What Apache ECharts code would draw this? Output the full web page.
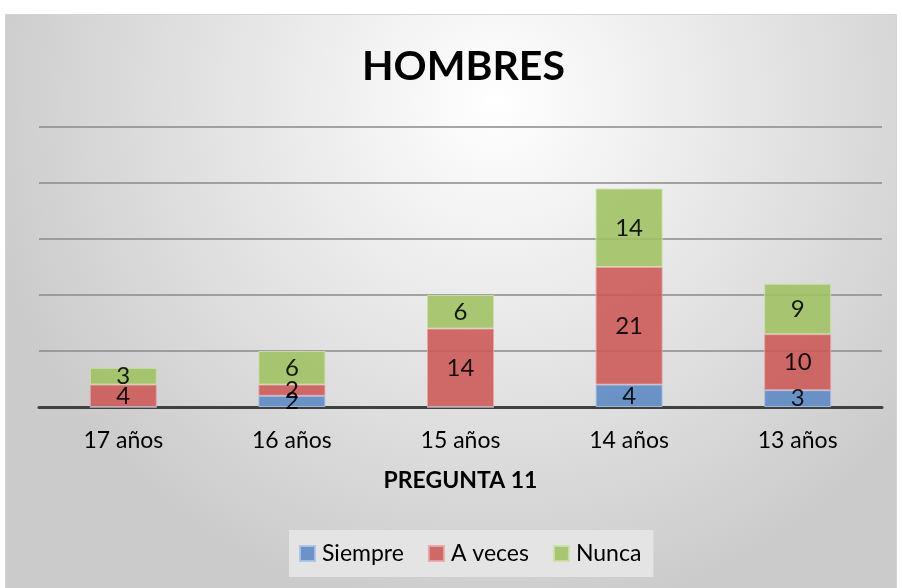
<!DOCTYPE html>
<html><head><meta charset="utf-8">
<script src="https://cdn.jsdelivr.net/npm/echarts@6/dist/echarts.min.js"></script>
<style>html,body{margin:0;padding:0;background:#fff}#c{width:902px;height:588px}</style>
</head><body><div id="c"></div>
<script>
const categories = ['17 años', '16 años', '15 años', '14 años', '13 años'];
const siempre = [0, 2, 0, 4, 3];
const aVeces = [4, 2, 14, 21, 10];
const nunca = [3, 6, 6, 14, 9];
const yTicks = [0, 10, 20, 30, 40, 50];

const chart = echarts.init(document.getElementById('c'));
const font = 'Lato, "Open Sans", sans-serif';
function lbl(v) { return v.value ? String(v.value) : ''; }
function mk(name, data, color, border) {
  return {
    name, type: 'bar', stack: 'total', data, barWidth: 67,
    itemStyle: { color, borderColor: border, borderWidth: 1, opacity: 0.88 },
    label: { show: true, position: 'inside', color: '#000', fontSize: 24, fontFamily: font, formatter: lbl },
    emphasis: { disabled: true }
  };
}
chart.setOption({
  animation: false,
  graphic: [{
    type: 'rect', z: -10, silent: true,
    shape: { x: 5.5, y: 14.5, width: 891, height: 580 },
    style: {
      fill: new echarts.graphic.RadialGradient(0.55, 0.15, 0.9, [
        { offset: 0, color: '#ffffff' }, { offset: 1, color: '#cbcbcb' }
      ]),
      stroke: '#d4d4d4', lineWidth: 1
    }
  }],
  title: {
    text: 'HOMBRES', left: 357, top: 41,
    textStyle: { fontSize: 41, fontWeight: 'bold', fontFamily: font, color: '#000' }
  },
  legend: {
    top: 530, left: 289,
    data: ['Siempre', 'A veces', 'Nunca'],
    itemWidth: 15, itemHeight: 15, itemGap: 24, icon: 'rect',
    backgroundColor: '#e4e4e4', padding: [12, 12, 12, 10],
    textStyle: { fontSize: 23, fontFamily: font, color: '#000', padding: [0, 0, 0, 2] }
  },
  grid: { left: 39, right: 20, top: 127, bottom: 181 },
  xAxis: {
    type: 'category', data: categories,
    name: 'PREGUNTA 11', nameLocation: 'middle', nameGap: 62,
    nameTextStyle: { fontSize: 23, fontWeight: 'bold', fontFamily: font, color: '#000' },
    axisLine: { lineStyle: { color: '#404040', width: 3 } },
    axisTick: { show: false },
    axisLabel: { fontSize: 23, fontFamily: font, color: '#000', margin: 22 }
  },
  yAxis: {
    type: 'value', min: yTicks[0], max: yTicks[yTicks.length - 1], interval: 10,
    axisLabel: { show: false }, axisLine: { show: false }, axisTick: { show: false },
    splitLine: { lineStyle: { color: '#8a8a8a', width: 1.5 } }
  },
  series: [
    mk('Siempre', siempre, '#5a88c4', '#a9c4e6'),
    mk('A veces', aVeces, '#cc5857', '#e8a5a4'),
    mk('Nunca', nunca, '#9fc062', '#cde0a9')
  ]
});
</script></body></html>
